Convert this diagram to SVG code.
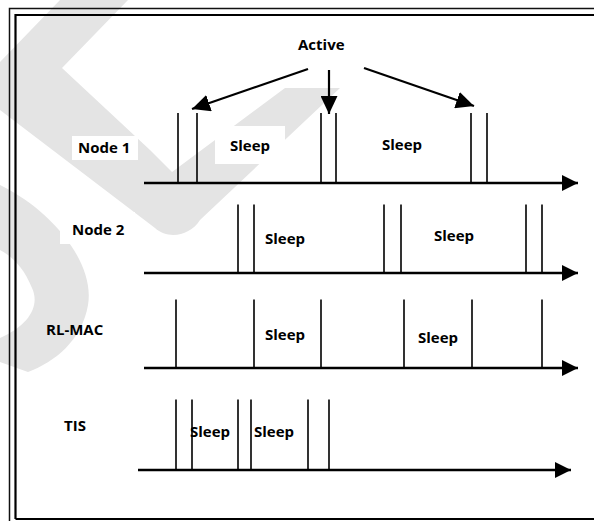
<svg xmlns="http://www.w3.org/2000/svg" width="594" height="521" viewBox="0 0 594 521">
<style>
text{font-family:"Open Sans","DejaVu Sans",sans-serif;font-weight:bold;font-size:15px;fill:#000}
.ax{stroke:#000;stroke-width:2.6;fill:none}
.tk{stroke:#000;stroke-width:1.6;fill:none}
.ar{stroke:#000;stroke-width:2.2;fill:none}
.wm{fill:#e4e4e4}
.fo{stroke:#111;stroke-width:1.5;fill:none}
.fi{stroke:#000;stroke-width:2.2;fill:none}
</style>
<defs>
<marker id="axh" markerUnits="userSpaceOnUse" markerWidth="16" markerHeight="16" refX="16" refY="8" orient="auto"><path d="M0,0 L16,8 L0,16 z" fill="#000"/></marker>
<marker id="arh" markerUnits="userSpaceOnUse" markerWidth="18" markerHeight="17" refX="18" refY="8.5" orient="auto"><path d="M0,0 L18,8.5 L0,17 z" fill="#000"/></marker>
</defs>
<rect width="594" height="521" fill="#fff"/>
<g id="watermark">
<path class="wm" d="M60,0 L128,0 L62,68 L150,150 L172,172 L285,88 L340,88 L200,220 C190,236 168,240 155,228 L0,110 L0,62 Z"/>
<path class="wm" d="M0,185 C55,212 95,265 88,305 C82,340 55,362 28,372 L0,362 L0,338 C30,325 40,305 32,288 C24,268 12,256 0,250 Z"/>
<rect x="215" y="126" width="70" height="38" fill="#fff"/>
<rect x="72" y="136" width="66" height="24" fill="#fff"/>
<rect x="60" y="212" width="75" height="32" fill="#fff"/>
</g>
<g id="frame">
<path class="fo" d="M9.5,521V8.5H594"/>
<path class="fi" d="M15.5,519V15H594M15.5,519H594"/>
</g>
<g id="active"><text x="298" y="50">Active</text></g>
<g id="node1">
<text x="78" y="153">Node 1</text>
<line class="ax" x1="144" y1="183" x2="578" y2="183" marker-end="url(#axh)"/>
<path class="tk" d="M178,113V183M197,113V183M321,113V183M336,113V183M471,113V183M487,113V183"/>
<text x="230" y="151">Sleep</text>
<text x="382" y="150">Sleep</text>
</g>
<g id="node2">
<text x="72" y="235">Node 2</text>
<line class="ax" x1="144" y1="273" x2="578" y2="273" marker-end="url(#axh)"/>
<path class="tk" d="M238,204.5V273M254,204.5V273M384,204.5V273M401,204.5V273M526,204.5V273M542,204.5V273"/>
<text x="265" y="244">Sleep</text>
<text x="434" y="241">Sleep</text>
</g>
<g id="rlmac">
<text x="46" y="335">RL-MAC</text>
<line class="ax" x1="144" y1="368" x2="578" y2="368" marker-end="url(#axh)"/>
<path class="tk" d="M176,299.5V368M254,299.5V368M321,299.5V368M404,299.5V368M472,299.5V368M542,299.5V368"/>
<text x="265" y="340">Sleep</text>
<text x="418" y="343">Sleep</text>
</g>
<g id="tis">
<text x="64" y="431">TIS</text>
<line class="ax" x1="138" y1="470" x2="571" y2="470" marker-end="url(#axh)"/>
<text x="190" y="437">Sleep</text>
<text x="254" y="437">Sleep</text>
<path class="tk" d="M176,399.5V470M192,399.5V470M238,399.5V470M251,399.5V470M308,399.5V470M329,399.5V470"/>
</g>
<g id="connectors">
<line class="ar" x1="308" y1="69" x2="192" y2="109" marker-end="url(#arh)"/>
<line class="ar" x1="329" y1="70" x2="329" y2="114" marker-end="url(#arh)"/>
<line class="ar" x1="364" y1="68" x2="474" y2="106" marker-end="url(#arh)"/>
</g>
</svg>
